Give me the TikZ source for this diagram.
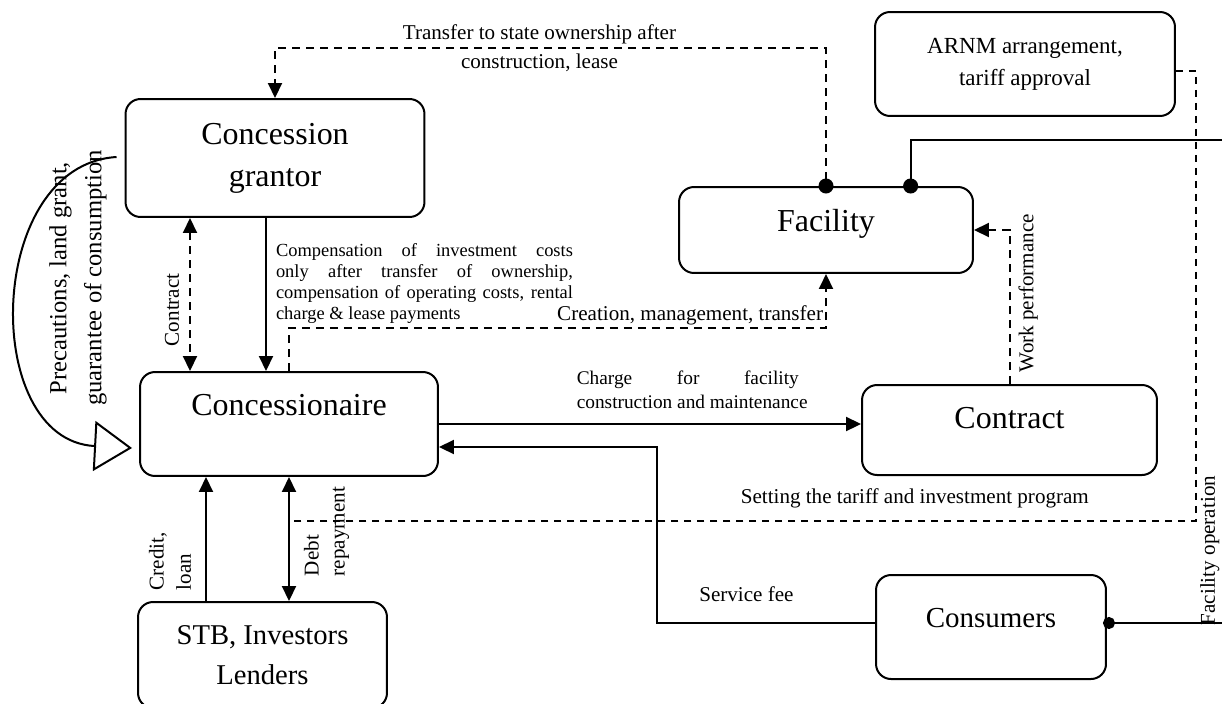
\documentclass[tikz,border=0pt]{standalone}
\usepackage{fontspec}
\setmainfont{Liberation Serif}
\usetikzlibrary{arrows.meta,calc}

\begin{document}
\begin{tikzpicture}[
    x=0.02cm, y=-0.02cm,
    >={Triangle[length=0.3cm, width=0.28cm]},
    % Party box style
    party/.style={
        draw, rounded corners=0.3cm, line width=0.04cm,
        align=center, inner sep=0pt
    },
    big/.style={font=\fontsize{18.2}{23.9}\selectfont},
    % Connector styles
    flow/.style={->, line width=0.04cm},
    dflow/.style={flow, dash pattern=on 0.16cm off 0.12cm},
    % Label styles
    note/.style={font=\fontsize{12}{14.4}\selectfont, inner sep=0.05cm},
    small note/.style={font=\fontsize{10.5}{12}\selectfont, align=left}
]

\useasboundingbox (0,0) rectangle (1222,703);
\clip (0,0) rectangle (1222,703);

% --- Parties ---
\node[party, big, minimum width=5.98cm, minimum height=2.36cm] (grantor) at (275,158) {Concession\\grantor};
\node[party, big, minimum width=5.96cm, minimum height=2.08cm, text depth=0.75cm] (concessionaire) at (289,424) {Concessionaire};
\node[party, big, minimum width=5.88cm, minimum height=1.72cm, text depth=0.4cm] (facility) at (826,230) {Facility};
\node[party, big, minimum width=5.9cm, minimum height=1.8cm, text depth=0.5cm] (contract) at (1009.5,430) {Contract};
\node[party, font=\fontsize{16.5}{20}\selectfont, minimum width=4.6cm, minimum height=2.08cm, text depth=0.38cm] (consumers) at (991,627) {Consumers};
\node[party, font=\fontsize{13.1}{18.2}\selectfont, minimum width=6cm, minimum height=2.08cm] (arnm) at (1025,64) {ARNM arrangement,\\tariff approval};
\node[party, font=\fontsize{16.3}{22.8}\selectfont, minimum width=4.98cm, minimum height=2.12cm] (stb) at (262.5,655) {STB, Investors\\Lenders};

% --- Helper coordinates ---
\coordinate (transfer level) at (0,48);
\coordinate (operation level) at (0,140);
\coordinate (creation level) at (0,328);
\coordinate (fee level) at (0,447);
\coordinate (tariff level) at (0,521);
\coordinate (right edge) at (1228,0);
\coordinate (tariff turn) at (1196,0);
\coordinate (fee x) at (657,0);
\coordinate (contract x) at (190,0);
\coordinate (pay x) at (266,0);
\coordinate (credit x) at (206,0);
\coordinate (facility dot) at ($(facility.north west)!0.786!(facility.north east)$);
\coordinate (consumers west port) at ($(consumers.west)+(0,-4)$);
\coordinate (consumers east port) at ($(consumers.east)+(0,-4)$);
\coordinate (tariff end) at (concessionaire.south |- tariff level);

% --- Connectors ---

% Facility -> grantor (transfer)
\draw[dflow, {Circle[length=0.3cm]}->, shorten <=-0.15cm] (facility.north)
    -- (facility.north |- transfer level)
    -- node[note, font=\fontsize{12}{16.5}\selectfont, align=center, inner sep=0pt, pos=0.52] {Transfer to state ownership after\\construction, lease}
       (grantor.north |- transfer level) -- (grantor.north);

% Facility -> consumers (operation)
\draw[line width=0.04cm, {Circle[length=0.3cm]}-{Circle[length=0.24cm]}, shorten <=-0.15cm, shorten >=-0.08cm] (facility dot)
    |- (right edge |- operation level)
    -- node[note, rotate=90, above, pos=0.85, inner sep=0.15cm] {Facility operation}
       (right edge |- consumers east port) -- (consumers east port);

% ARNM -> tariff setting
\draw[line width=0.03cm, dash pattern=on 0.14cm off 0.12cm] ([yshift=-0.14cm]arnm.east)
    -| (tariff turn |- tariff level)
    -- node[note, above, pos=0.31, inner sep=0.25cm] {Setting the tariff and investment program} (tariff end);

% Grantor <-> concessionaire (contract)
\draw[dflow, <->] (contract x |- grantor.south)
    -- node[note, rotate=90, above, pos=0.6, inner sep=0.2cm] {Contract} (contract x |- concessionaire.north);

% Grantor -> concessionaire (compensation)
\draw[flow] (pay x |- grantor.south)
    -- node[small note, right, pos=0.43, inner sep=0.18cm] {\makebox[5.94cm][s]{Compensation of investment costs}\\\makebox[5.94cm][s]{only after transfer of ownership,}\\\makebox[5.94cm][s]{compensation of operating costs, rental}\\charge \& lease payments}
       (pay x |- concessionaire.north);

% Concessionaire -> facility (creation)
\draw[dflow] (concessionaire.north) |- (facility.south |- creation level)
    node[note, above left, inner sep=0.04cm] {Creation, management, transfer} -- (facility.south);

% Contract -> facility (work)
\draw[dflow] (contract.north)
    |- node[note, rotate=90, below, pos=0.295, inner sep=0.16cm] {Work performance} (facility.east);

% Concessionaire -> contract (charge)
\draw[flow] (concessionaire.east)
    -- node[font=\fontsize{11}{13.7}\selectfont, align=left, above, pos=0.6, inner sep=0.28cm] {\makebox[4.44cm][s]{Charge for facility}\\construction and maintenance}
       (concessionaire.east -| contract.west);

% Consumers -> concessionaire (service fee)
\draw[flow] (consumers west port)
    -- node[note, above, pos=0.59, inner sep=0.4cm] {Service fee} (fee x |- consumers west port)
    |- (concessionaire.east |- fee level);

% Lenders <-> concessionaire
\draw[flow] (credit x |- stb.north)
    -- node[font=\fontsize{12}{15.4}\selectfont, rotate=90, above, align=left, pos=0.32, inner sep=0.28cm] {Credit,\\loan}
       (credit x |- concessionaire.south);
\draw[flow, <->] (concessionaire.south)
    -- node[font=\fontsize{12}{14.8}\selectfont, rotate=90, below, align=left, pos=0.44, inner sep=0.28cm] {Debt\\repayment}
       (concessionaire.south |- stb.north);

% Grantor -> concessionaire (guarantees)
\draw[line width=0.04cm, -{Triangle[open, length=0.76cm, width=1cm]}]
    ($(grantor.west)+(-8,-1)$) .. controls (-15,165) and (-20,440) .. ($(concessionaire.west)+(-7,24)$);
\node[rotate=90, font=\fontsize{14}{19.9}\selectfont, align=center, inner sep=0pt] (precautions) at (78,278) {Precautions, land grant,\\guarantee of consumption};

\end{tikzpicture}
\end{document}
